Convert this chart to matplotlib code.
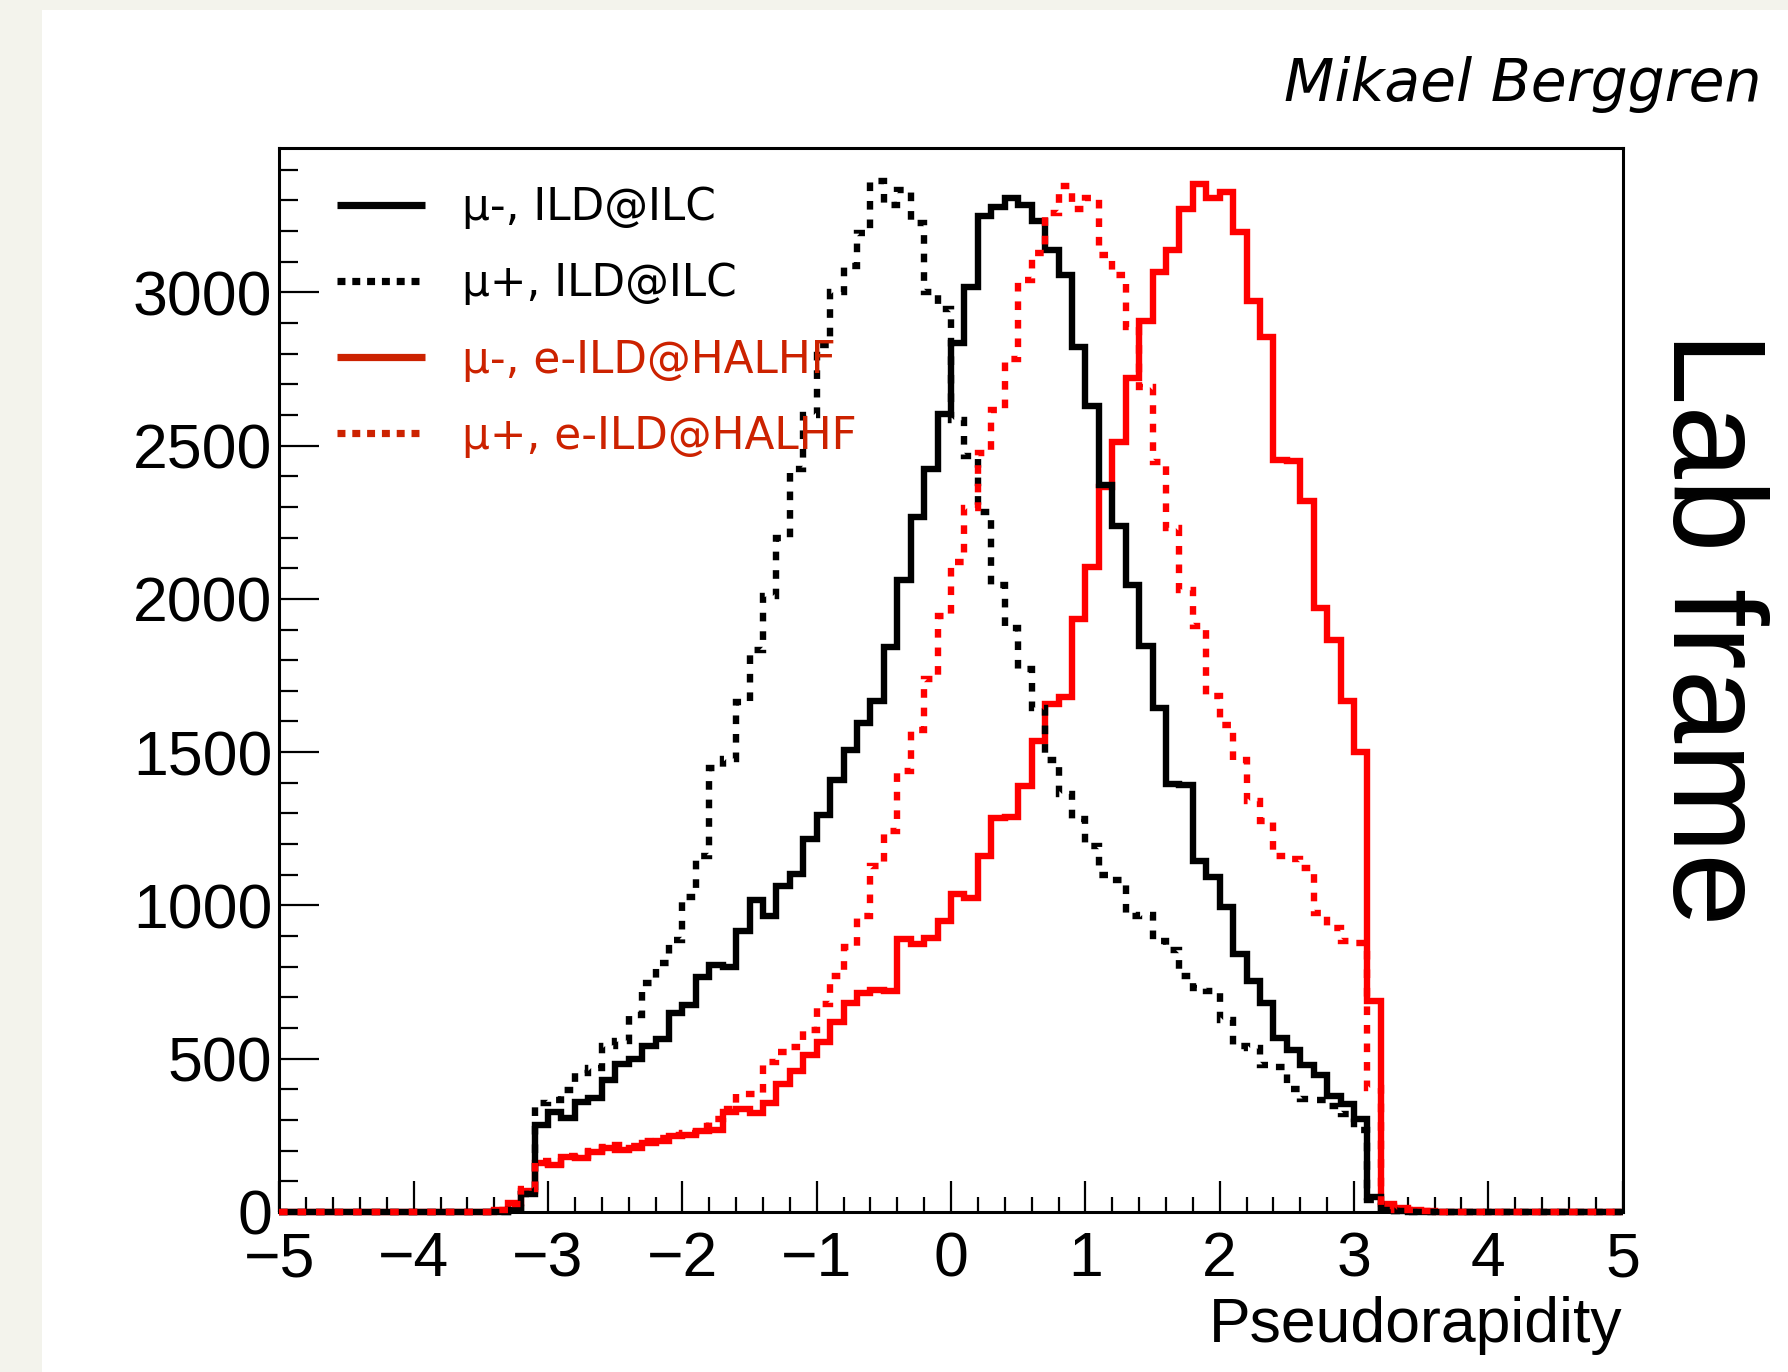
import numpy as np
import matplotlib
matplotlib.use("Agg")
import matplotlib.pyplot as plt
from matplotlib.lines import Line2D
from matplotlib.patches import Rectangle
from matplotlib.ticker import MultipleLocator

plt.rcParams['font.family'] = ['Liberation Sans', 'DejaVu Sans']

# 100 bins of 0.1 in eta from -5 to 5
edges = np.round(np.linspace(-5, 5, 101), 2)
first_bin = 16   # bin starting at eta = -3.4; bins outside [-3.4, 3.6) are empty

# bin contents for eta = -3.4, -3.3, ..., 3.5
mu_minus_ilc = [
    0, 5, 60, 285, 325, 308, 358, 372, 432, 482,
    500, 543, 565, 648, 675, 768, 805, 800, 918, 1018,
    965, 1065, 1102, 1217, 1294, 1410, 1508, 1595, 1666, 1843,
    2063, 2266, 2423, 2603, 2836, 3018, 3249, 3278, 3307, 3284,
    3231, 3138, 3057, 2820, 2628, 2371, 2237, 2045, 1846, 1644,
    1397, 1392, 1144, 1094, 996, 841, 753, 681, 567, 527,
    478, 446, 379, 352, 302, 49, 8, 3, 0, 0,
]
mu_plus_ilc = [
    0, 5, 60, 355, 366, 398, 452, 470, 540, 558,
    643, 748, 811, 887, 1028, 1160, 1449, 1477, 1665, 1833,
    2010, 2200, 2424, 2600, 2828, 3000, 3086, 3192, 3363, 3285,
    3335, 3227, 3000, 2945, 2582, 2466, 2284, 2045, 1905, 1770,
    1645, 1475, 1364, 1283, 1193, 1100, 1084, 967, 970, 885,
    853, 770, 731, 720, 625, 540, 534, 480, 474, 400,
    370, 366, 347, 320, 269, 40, 5, 2, 0, 0,
]
mu_minus_halhf = [
    5, 30, 70, 160, 153, 180, 176, 197, 208, 202,
    208, 225, 231, 249, 252, 263, 269, 327, 335, 324,
    357, 416, 461, 511, 555, 621, 681, 714, 725, 720,
    890, 874, 895, 950, 1038, 1023, 1160, 1284, 1290, 1391,
    1535, 1656, 1680, 1934, 2104, 2365, 2511, 2720, 2905, 3066,
    3139, 3272, 3354, 3308, 3328, 3198, 2973, 2853, 2452, 2449,
    2318, 1970, 1866, 1667, 1502, 687, 25, 12, 6, 4,
]
mu_plus_halhf = [
    5, 25, 75, 165, 158, 183, 182, 198, 213, 218,
    215, 232, 240, 250, 258, 280, 303, 335, 384, 384,
    490, 522, 538, 593, 677, 770, 863, 964, 1127, 1244,
    1438, 1572, 1737, 1945, 2121, 2295, 2475, 2615, 2784, 3040,
    3127, 3260, 3347, 3272, 3308, 3121, 3057, 2888, 2691, 2447,
    2231, 2029, 1911, 1683, 1590, 1475, 1341, 1276, 1160, 1150,
    1122, 975, 925, 885, 877, 405, 20, 8, 5, 3,
]

labels = ['μ-, ILD@ILC', 'μ+, ILD@ILC', 'μ-, e-ILD@HALHF', 'μ+, e-ILD@HALHF']


def full_hist(vals):
    vals = np.asarray(vals, dtype=float)
    out = np.zeros(len(edges) - 1)
    out[first_bin:first_bin + len(vals)] = vals
    return out


lw = 4.6
dots = (0, (1.35, 1.55))
legend_red = '#cc2200'

fig = plt.figure(figsize=(17.88, 13.72), dpi=100, facecolor='#f3f3ec')
fig.add_artist(Rectangle((42 / 1788, 0), 1, 1 - 10 / 1372, transform=fig.transFigure,
                         facecolor='white', edgecolor='none', zorder=-10))

ax = fig.add_axes([0.15626, 0.11662, 0.75128, 0.77536])

ax.stairs(full_hist(mu_minus_halhf), edges, color='red', lw=lw, clip_on=False, zorder=2)
ax.stairs(full_hist(mu_minus_ilc), edges, color='black', lw=lw, clip_on=False, zorder=3)
ax.stairs(full_hist(mu_plus_ilc), edges, color='black', lw=lw, ls=dots, clip_on=False, zorder=4)
ax.stairs(full_hist(mu_plus_halhf), edges, color='red', lw=lw, ls=dots, clip_on=False, zorder=5)

ax.set_xlim(-5, 5)
ax.set_ylim(0, 3470)
ax.xaxis.set_major_locator(MultipleLocator(1))
ax.xaxis.set_minor_locator(MultipleLocator(0.2))
ax.yaxis.set_major_locator(MultipleLocator(500))
ax.yaxis.set_minor_locator(MultipleLocator(100))
ax.tick_params(which='both', direction='in', top=False, right=False, width=1.6, labelsize=45)
ax.tick_params(axis='x', which='major', length=22, pad=13)
ax.tick_params(axis='x', which='minor', length=11)
ax.tick_params(axis='y', which='major', length=29, pad=5)
ax.tick_params(axis='y', which='minor', length=14)
for sp in ax.spines.values():
    sp.set_linewidth(2.2)

ax.set_xlabel('Pseudorapidity', fontsize=45, loc='right', labelpad=5)

handles = [
    Line2D([], [], color='black', lw=5.2, solid_capstyle='butt'),
    Line2D([], [], color='black', lw=5.2, ls=(0, (1.1, 0.95))),
    Line2D([], [], color=legend_red, lw=5.2, solid_capstyle='butt'),
    Line2D([], [], color=legend_red, lw=5.2, ls=(0, (1.1, 0.95))),
]
ax.legend(handles, labels, loc='upper left', bbox_to_anchor=(337 / 1788, 1 - 186 / 1372),
          bbox_transform=fig.transFigure, frameon=False,
          prop={'family': 'DejaVu Sans', 'size': 31.5},
          handlelength=2.0, handletextpad=0.85, labelspacing=0.76,
          borderpad=0, borderaxespad=0,
          labelcolor=['black', 'black', legend_red, legend_red])

fig.text(1762 / 1788, 1 - 101 / 1372, 'Mikael Berggren', ha='right', va='baseline',
         fontsize=42, style='italic', family='DejaVu Sans')
fig.text(1707 / 1788, 1 - 628 / 1372, 'Lab frame', rotation=-90, ha='center', va='center',
         fontsize=95)

fig.savefig('out.png', dpi=100, facecolor=fig.get_facecolor())
